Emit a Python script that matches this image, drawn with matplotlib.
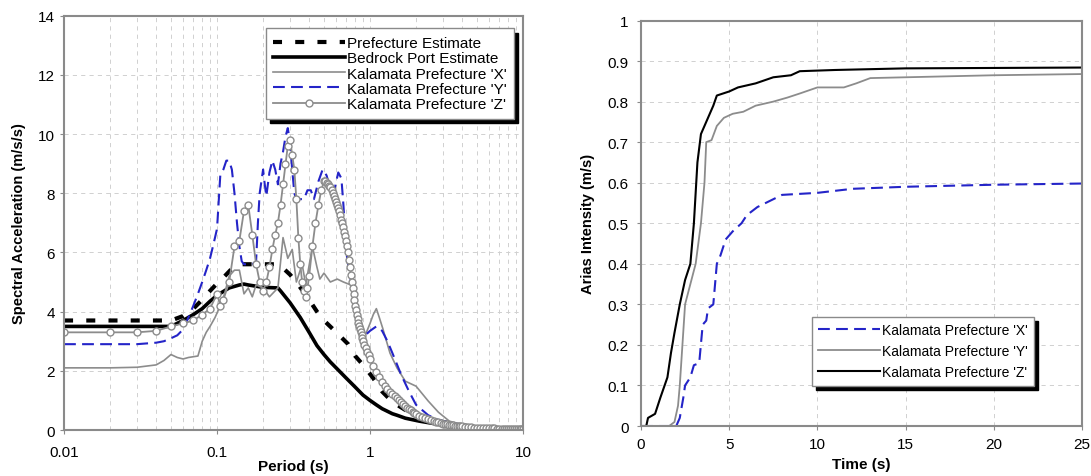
import matplotlib
matplotlib.use("Agg")
import matplotlib.pyplot as plt

plt.rcParams['font.family'] = ['Liberation Sans', 'DejaVu Sans']
plt.rcParams['lines.scale_dashes'] = False

# ---- spectral acceleration (left) ----
pref_T = [0.01, 0.05, 0.06, 0.07, 0.08, 0.09, 0.1, 0.11, 0.125, 0.14, 0.25, 0.27, 0.3, 0.33,
          0.4, 0.45, 0.5, 0.61, 0.72, 0.8, 0.9, 1.05, 1.2, 1.4, 1.76, 2.2, 2.6, 3, 4, 5, 7, 10]
pref_sa = [3.7, 3.7, 3.85, 4.1, 4.4, 4.7, 4.95, 5.15, 5.45, 5.6, 5.6, 5.47, 5.25, 5.0,
           4.4, 4.0, 3.7, 3.27, 2.9, 2.5, 2.2, 1.75, 1.3, 0.95, 0.63, 0.47, 0.35, 0.27, 0.16, 0.1, 0.06, 0.03]

bed_T = [0.01, 0.05, 0.06, 0.07, 0.08, 0.09, 0.1, 0.12, 0.14, 0.15, 0.16, 0.2, 0.25, 0.26, 0.3,
         0.35, 0.4, 0.45, 0.5, 0.55, 0.7, 0.8, 0.9, 1.0, 1.1, 1.2, 1.4, 1.5, 1.7, 2.1, 2.6, 3.1, 4, 5, 7, 10]
bed_sa = [3.5, 3.5, 3.7, 3.9, 4.1, 4.35, 4.55, 4.8, 4.9, 4.93, 4.9, 4.82, 4.8, 4.7, 4.3,
          3.8, 3.3, 2.85, 2.55, 2.3, 1.75, 1.45, 1.18, 1.0, 0.85, 0.72, 0.55, 0.5, 0.4, 0.3, 0.22, 0.17, 0.11, 0.07, 0.04, 0.02]

kx_T = [0.01, 0.02, 0.03, 0.04, 0.045, 0.05, 0.055, 0.06, 0.065, 0.075, 0.08, 0.085, 0.09, 0.097,
        0.105, 0.112, 0.12, 0.13, 0.14, 0.15, 0.16, 0.17, 0.18, 0.2, 0.22, 0.25, 0.27, 0.29, 0.31,
        0.33, 0.36, 0.38, 0.42, 0.45, 0.47, 0.5, 0.55, 0.61, 0.67, 0.75, 0.82, 0.88, 0.93, 1.0, 1.05,
        1.1, 1.15, 1.21, 1.35, 1.5, 1.7, 2.0, 2.4, 2.8, 3.3, 4, 5, 7, 10]
kx_sa = [2.1, 2.1, 2.12, 2.2, 2.35, 2.55, 2.45, 2.4, 2.45, 2.5, 3.0, 3.3, 3.5, 3.8,
         4.2, 4.6, 5.2, 5.4, 5.4, 4.6, 4.8, 4.5, 4.9, 4.8, 4.5, 4.8, 6.5, 5.8, 6.1,
         5.0, 5.6, 4.9, 6.2, 5.5, 5.1, 5.3, 5.0, 5.1, 5.0, 4.9, 4.2, 3.6, 3.2, 3.6, 3.9,
         4.1, 3.8, 3.44, 2.6, 2.1, 1.65, 1.48, 0.98, 0.6, 0.3, 0.18, 0.12, 0.06, 0.03]

ky_T = [0.01, 0.02, 0.03, 0.04, 0.045, 0.05, 0.055, 0.06, 0.065, 0.07, 0.075, 0.08, 0.085, 0.09,
        0.095, 0.1, 0.105, 0.11, 0.115, 0.12, 0.125, 0.13, 0.135, 0.14, 0.145, 0.15, 0.16, 0.17,
        0.18, 0.185, 0.19, 0.2, 0.205, 0.21, 0.22, 0.23, 0.24, 0.25, 0.26, 0.27, 0.28, 0.29, 0.3,
        0.31, 0.32, 0.33, 0.35, 0.37, 0.39, 0.41, 0.43, 0.46, 0.49, 0.52, 0.56, 0.59, 0.62, 0.65,
        0.67, 0.7, 0.74, 0.78, 0.82, 0.86, 0.9, 0.93, 1.0, 1.1, 1.2, 1.3, 1.4, 1.6, 1.8, 2.0,
        2.4, 2.8, 3.2, 3.6, 4, 5, 6, 8, 10]
ky_sa = [2.9, 2.9, 2.9, 2.95, 3.0, 3.1, 3.2, 3.4, 3.8, 4.2, 4.6, 5.0, 5.4, 5.8,
         6.3, 6.8, 8.6, 8.8, 9.1, 9.1, 8.8, 8.0, 7.0, 6.2, 5.7, 5.6, 5.6, 5.6,
         5.7, 7.0, 8.0, 8.8, 8.3, 7.9, 8.7, 9.1, 8.8, 8.3, 9.0, 9.4, 9.9, 10.2, 9.7,
         8.8, 8.0, 7.8, 7.8, 7.8, 8.1, 8.1, 7.8, 8.4, 8.8, 8.6, 8.0, 8.2, 8.7, 8.5,
         7.6, 6.0, 5.2, 4.5, 3.9, 3.4, 3.1, 3.2, 3.35, 3.5, 3.35, 3.0, 2.6, 1.86, 1.3, 0.85,
         0.5, 0.34, 0.27, 0.22, 0.18, 0.12, 0.08, 0.05, 0.03]

kz_T = [0.01, 0.02, 0.03, 0.04, 0.05, 0.06, 0.07, 0.08, 0.09, 0.1, 0.105, 0.11, 0.12, 0.13, 0.14,
        0.15, 0.16, 0.17, 0.18, 0.19, 0.2, 0.21, 0.22, 0.23, 0.24, 0.25, 0.26, 0.27, 0.28, 0.29,
        0.3, 0.31, 0.32, 0.33, 0.34, 0.35, 0.36, 0.37, 0.38, 0.39, 0.4, 0.42, 0.44, 0.46, 0.48,
        0.5, 0.51, 0.52, 0.53, 0.54, 0.55, 0.56, 0.57, 0.58, 0.59, 0.6, 0.61, 0.62, 0.63, 0.64,
        0.65, 0.66, 0.67, 0.68, 0.69, 0.7, 0.71, 0.72, 0.73, 0.74, 0.75, 0.76, 0.77, 0.78, 0.79,
        0.8, 0.81, 0.82, 0.83, 0.84, 0.85, 0.86, 0.87, 0.88, 0.89, 0.9, 0.92, 0.94, 0.96, 0.98,
        1.0, 1.05, 1.1, 1.15, 1.2, 1.25, 1.3, 1.35, 1.4, 1.45, 1.5, 1.55, 1.6, 1.65, 1.7, 1.75,
        1.8, 1.85, 1.9, 1.95, 2.0, 2.1, 2.2, 2.3, 2.4, 2.5, 2.6, 2.7, 2.8, 2.9, 3.0, 3.1, 3.2,
        3.3, 3.4, 3.5, 3.6, 3.7, 3.8, 3.9, 4.0, 4.2, 4.4, 4.6, 4.8, 5.0, 5.25, 5.5, 5.75, 6.0,
        6.25, 6.5, 6.75, 7.0, 7.25, 7.5, 7.75, 8.0, 8.25, 8.5, 8.75, 9.0, 9.25, 9.5, 9.75, 10]
kz_sa = [3.3, 3.3, 3.3, 3.35, 3.5, 3.6, 3.7, 3.9, 4.1, 4.6, 4.2, 4.4, 5.0, 6.2, 6.4,
         7.4, 7.6, 6.6, 5.6, 5.0, 4.7, 5.0, 5.5, 6.1, 6.6, 7.0, 7.6, 8.3, 9.0, 9.6,
         9.8, 9.3, 8.8, 7.8, 6.5, 5.6, 5.0, 4.7, 4.5, 4.8, 5.2, 6.2, 7.0, 7.6, 8.1,
         8.4, 8.4, 8.35, 8.3, 8.25, 8.2, 8.1, 8.0, 7.9, 7.8, 7.7, 7.6, 7.5, 7.4, 7.25,
         7.1, 7.0, 6.85, 6.7, 6.55, 6.4, 6.2, 6.0, 5.75, 5.5, 5.25, 5.0, 4.8, 4.6, 4.4,
         4.2, 4.05, 3.9, 3.75, 3.6, 3.5, 3.4, 3.3, 3.2, 3.1, 3.0, 2.88, 2.76, 2.64, 2.52,
         2.4, 2.15, 1.95, 1.78, 1.63, 1.5, 1.4, 1.3, 1.22, 1.15, 1.08, 1.0, 0.93, 0.87, 0.81, 0.76,
         0.71, 0.66, 0.62, 0.58, 0.55, 0.49, 0.44, 0.4, 0.36, 0.33, 0.3, 0.28, 0.26, 0.24, 0.22, 0.2, 0.19,
         0.18, 0.17, 0.16, 0.15, 0.14, 0.13, 0.125, 0.12, 0.11, 0.1, 0.09, 0.085, 0.08, 0.075, 0.07, 0.065, 0.06,
         0.056, 0.052, 0.049, 0.046, 0.043, 0.04, 0.038, 0.036, 0.034, 0.032, 0.03, 0.029, 0.028, 0.027, 0.026, 0.025]

# ---- Arias intensity (right) ----
ax_t = [0, 2.0, 2.2, 2.4, 2.5, 2.8, 3.0, 3.3, 3.5, 3.7, 3.8, 4.1, 4.3, 4.5, 4.8, 5.2, 5.7, 6.0,
        6.6, 7.3, 8.0, 10, 12, 15, 20, 25]
ax_ai = [0, 0, 0.02, 0.07, 0.1, 0.12, 0.15, 0.155, 0.25, 0.26, 0.29, 0.3, 0.4, 0.42, 0.46, 0.48,
         0.5, 0.52, 0.54, 0.555, 0.57, 0.575, 0.585, 0.59, 0.595, 0.598]

ay_t = [0, 1.6, 1.9, 2.1, 2.2, 2.5, 2.8, 3.1, 3.4, 3.6, 3.7, 4.0, 4.3, 4.7, 5.2, 5.8, 6.5, 7.5,
        8.3, 9.0, 10, 11.5, 12.2, 13, 15, 20, 25]
ay_ai = [0, 0, 0.01, 0.05, 0.1, 0.3, 0.35, 0.4, 0.5, 0.6, 0.7, 0.705, 0.74, 0.76, 0.77, 0.775,
         0.79, 0.8, 0.81, 0.82, 0.835, 0.835, 0.845, 0.858, 0.86, 0.865, 0.868]

az_t = [0, 0.3, 0.4, 0.8, 1.1, 1.5, 1.7, 1.9, 2.2, 2.5, 2.8, 3.0, 3.2, 3.4, 3.6, 3.9, 4.1, 4.3,
        5.0, 5.5, 6.5, 7.5, 8.5, 9.0, 11, 15, 25]
az_ai = [0, 0, 0.02, 0.03, 0.07, 0.12, 0.18, 0.23, 0.3, 0.36, 0.4, 0.5, 0.65, 0.72, 0.74, 0.77,
         0.79, 0.815, 0.825, 0.835, 0.845, 0.86, 0.865, 0.875, 0.878, 0.882, 0.884]

blue = '#2424c8'
gray = '#8c8c8c'
frame = '#8a8a8a'
shadow = {'ox': 3, 'oy': -3, 'facecolor': 'black', 'edgecolor': 'black', 'alpha': 1}

fig = plt.figure(figsize=(10.91, 4.77), dpi=100)
ax1 = fig.add_axes([0.0587, 0.0964, 0.4207, 0.8688])
ax2 = fig.add_axes([0.5875, 0.1048, 0.4043, 0.8501])

ax1.plot(pref_T, pref_sa, color='black', lw=3, dashes=(6.5, 9.5), label='Prefecture Estimate')
ax1.plot(bed_T, bed_sa, color='black', lw=2.6, label='Bedrock Port Estimate')
ax1.plot(kx_T, kx_sa, color=gray, lw=1.2, label="Kalamata Prefecture 'X'")
ax1.plot(ky_T, ky_sa, color=blue, lw=1.5, dashes=(8.5, 4.5), label="Kalamata Prefecture 'Y'")
ax1.plot(kz_T, kz_sa, color=gray, lw=1.3, marker='o', ms=5, mfc='white', mec=gray, mew=1.0,
         label="Kalamata Prefecture 'Z'")

ax1.set_xscale('log')
ax1.set_xlim(0.01, 10)
ax1.set_ylim(0, 14)
ax1.set_yticks(range(0, 15, 2))
ax1.set_xticks([0.01, 0.1, 1, 10])
ax1.set_xticklabels(['0.01', '0.1', '1', '10'])
ax1.grid(True, which='both', axis='x', color='#d0d0d0', linestyle=(0, (3, 3)), lw=0.7)
ax1.grid(True, which='major', axis='y', color='#d0d0d0', linestyle=(0, (3, 3)), lw=0.7)
ax1.set_xlabel('Period (s)', fontsize=11, fontweight='bold', labelpad=0)
ax1.set_ylabel('Spectral Acceleration (m/s/s)', fontsize=10.5, fontweight='bold', labelpad=9)
ax1.legend(loc='upper right', bbox_to_anchor=(0.9805, 0.969), fontsize=11, fancybox=False,
           edgecolor=frame, framealpha=1, borderpad=0.5, labelspacing=0.08, handlelength=4.7,
           handletextpad=0.1, borderaxespad=0, shadow=shadow)

ax2.plot(ax_t, ax_ai, color=blue, lw=1.5, dashes=(8.5, 4.5), label="Kalamata Prefecture 'X'")
ax2.plot(ay_t, ay_ai, color=gray, lw=1.3, label="Kalamata Prefecture 'Y'")
ax2.plot(az_t, az_ai, color='black', lw=1.5, label="Kalamata Prefecture 'Z'")
ax2.set_xlim(0, 25)
ax2.set_ylim(0, 1)
ax2.set_xticks(range(0, 26, 5))
ax2.set_yticks([i / 10 for i in range(11)])
ax2.set_yticklabels(['0'] + ['0.%d' % i for i in range(1, 10)] + ['1'])
ax2.grid(True, color='#d0d0d0', linestyle=(0, (3, 3)), lw=0.7)
ax2.set_xlabel('Time (s)', fontsize=11, fontweight='bold', labelpad=4)
ax2.set_ylabel('Arias Intensity (m/s)', fontsize=10.5, fontweight='bold', labelpad=9)
ax2.legend(loc='upper right', bbox_to_anchor=(0.891, 0.269), fontsize=10, fancybox=False,
           edgecolor=frame, framealpha=1, borderpad=0.46, labelspacing=0.5, handlelength=4.5,
           handletextpad=0.1, borderaxespad=0, shadow=shadow)

for ax in (ax1, ax2):
    for sp in ax.spines.values():
        sp.set_color(frame)
        sp.set_linewidth(1.5)
    ax.tick_params(which='both', direction='out', length=3, color=frame, labelsize=11)
    ax.tick_params(which='minor', length=0)
    ax.set_axisbelow(True)
ax1.tick_params(axis='x', pad=8)
ax2.tick_params(axis='x', pad=5)
ax2.tick_params(axis='y', pad=6)

fig.savefig('out.png', dpi=100)
